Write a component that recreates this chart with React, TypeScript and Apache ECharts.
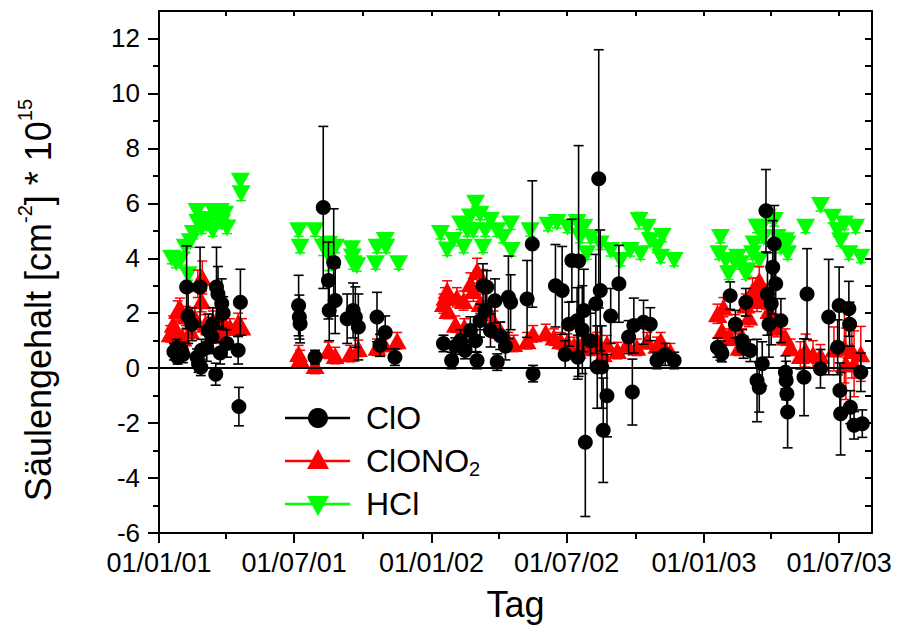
import React, { useEffect, useRef } from "react";
import * as echarts from "echarts";

// ---------- data ----------
const cloDates = [
  "2001-01-21","2001-01-25","2001-01-26","2001-01-31","2001-02-02","2001-02-07","2001-02-09","2001-02-14","2001-02-21","2001-02-23",
  "2001-02-25","2001-02-26","2001-02-27","2001-03-06","2001-03-08","2001-03-13","2001-03-14","2001-03-18","2001-03-19","2001-03-21",
  "2001-03-24","2001-03-26","2001-03-28","2001-04-02","2001-04-17","2001-04-18","2001-04-20",
  "2001-07-07","2001-07-08","2001-07-09","2001-07-29","2001-08-09","2001-08-16","2001-08-17","2001-08-23","2001-08-25","2001-09-10",
  "2001-09-18","2001-09-21","2001-09-25","2001-10-20","2001-10-24","2001-10-31","2001-11-13",
  "2002-01-17","2002-01-28","2002-02-02","2002-02-09","2002-02-15","2002-02-22","2002-03-01","2002-03-03","2002-03-07","2002-03-11",
  "2002-03-14","2002-03-16","2002-03-21","2002-03-27","2002-03-30","2002-04-03","2002-04-10","2002-04-14","2002-04-17","2002-05-09",
  "2002-05-16","2002-05-17",
  "2002-06-16","2002-06-25","2002-06-29","2002-07-04","2002-07-08","2002-07-15","2002-07-16","2002-07-17","2002-07-22","2002-07-24",
  "2002-07-26","2002-08-02","2002-08-09","2002-08-11","2002-08-13","2002-08-15","2002-08-17","2002-08-19","2002-08-24","2002-08-29",
  "2002-09-09","2002-09-22","2002-09-27","2002-09-29","2002-10-12","2002-10-21","2002-10-30","2002-11-10","2002-11-22",
  "2003-01-19","2003-01-23","2003-01-25","2003-02-05","2003-02-12","2003-02-21","2003-02-23","2003-02-26","2003-03-04","2003-03-13",
  "2003-03-16","2003-03-20","2003-03-25","2003-03-27","2003-03-29","2003-04-01","2003-04-03","2003-04-05","2003-04-07","2003-04-14",
  "2003-04-20","2003-04-21","2003-04-22","2003-04-23",
  "2003-05-15","2003-05-19","2003-06-06","2003-06-17","2003-06-29","2003-07-01","2003-07-02","2003-07-03","2003-07-14","2003-07-15",
  "2003-07-16","2003-07-21","2003-07-30","2003-08-01",
];
const cloValues = [
  0.6,0.75,0.4,0.65,0.5,2.95,1.9,1.6,0.4,0.15,
  2.95,0.03,0.65,0.75,1.37,1.13,1.6,-0.22,2.95,2.7,
  0.55,2.35,2.0,0.9,0.65,-1.4,2.4,
  2.28,1.86,1.62,0.4,5.85,3.19,2.1,3.85,2.46,1.8,
  2.1,1.86,1.5,1.86,0.83,1.3,0.4,
  0.9,0.28,0.8,1.0,0.64,1.37,1.0,0.28,1.73,3.0,
  2.1,2.95,1.37,2.45,0.22,1.18,0.8,2.58,2.4,2.52,
  4.52,-0.2,
  3.0,2.83,0.5,1.6,3.92,1.73,0.4,3.9,1.4,2.1,
  -2.7,1.0,2.34,0.04,6.89,2.83,0.04,-2.26,-1.0,1.9,
  3.07,1.13,-0.87,1.55,1.67,1.6,0.28,0.5,0.28,
  0.75,0.64,0.53,2.64,1.6,1.0,0.76,2.4,0.64,-0.45,
  -0.7,0.16,5.73,2.7,1.6,2.35,3.67,4.52,3.07,1.73,
  -0.15,-0.45,-0.93,-1.6,
  -0.33,2.7,-0.02,1.86,0.76,2.28,-0.81,-1.66,2.16,1.6,
  -1.42,-2.08,-0.15,-2.02,
];
const cloErrors = [
  0.3,0.3,0.25,0.3,0.3,1.5,1.0,0.6,0.3,0.3,
  1.45,0.3,0.4,0.5,0.6,0.6,0.6,0.4,1.45,1.0,
  0.4,0.9,0.6,0.5,0.5,0.7,1.2,
  1.1,0.8,0.7,0.25,2.95,1.4,1.1,1.95,1.2,0.9,
  1.0,1.1,1.2,0.9,0.4,0.6,0.3,
  0.3,0.3,0.3,0.4,0.3,0.5,0.4,0.3,0.6,0.8,
  0.7,0.6,0.6,0.8,0.3,0.5,0.5,1.5,1.0,1.4,
  2.3,0.3,
  1.5,1.6,0.5,0.8,1.5,1.2,0.8,4.2,1.6,1.5,
  2.7,1.0,1.8,1.5,4.7,2.2,1.5,1.9,1.5,1.0,
  1.4,0.6,1.2,1.0,0.8,0.6,0.3,0.4,0.3,
  0.35,0.35,0.3,0.5,0.5,0.4,0.4,0.5,0.4,1.5,
  0.9,0.8,1.5,1.5,1.2,1.5,1.7,1.4,1.4,0.8,
  0.6,0.7,0.8,1.3,
  1.4,1.65,0.7,2.1,1.0,1.4,1.0,1.5,1.0,0.8,
  0.6,0.5,0.7,0.5,
];

const clono2Dates = [
  "2001-01-16","2001-01-20","2001-01-24","2001-01-26","2001-01-29","2001-02-02","2001-02-06","2001-02-12","2001-02-18","2001-02-22",
  "2001-02-27","2001-02-28","2001-03-04","2001-03-10","2001-03-14","2001-03-21","2001-03-25","2001-03-30","2001-04-06","2001-04-17",
  "2001-04-22",
  "2001-07-07","2001-07-09","2001-07-29","2001-08-16","2001-08-25","2001-09-14","2001-09-25","2001-10-20","2001-10-29","2001-11-16",
  "2002-01-17","2002-01-19","2002-01-22","2002-01-23","2002-02-02","2002-02-04","2002-02-13","2002-02-14","2002-02-22","2002-02-26",
  "2002-03-03","2002-03-07","2002-03-11","2002-03-16","2002-03-25","2002-04-03","2002-04-14","2002-04-21","2002-05-09","2002-05-17",
  "2002-06-03","2002-06-14","2002-06-23","2002-07-02","2002-07-11","2002-07-15","2002-07-24","2002-08-02","2002-08-11","2002-08-19",
  "2002-08-24","2002-09-07","2002-09-20","2002-10-03","2002-10-17","2002-10-30","2002-11-04","2002-11-17",
  "2003-01-19","2003-01-25","2003-01-27","2003-02-05","2003-02-12","2003-02-17","2003-02-21","2003-02-26","2003-03-02","2003-03-07",
  "2003-03-13","2003-03-14","2003-03-16","2003-03-25","2003-03-29","2003-04-09","2003-04-20","2003-04-27",
  "2003-05-10","2003-05-17","2003-05-27","2003-06-06","2003-06-24","2003-07-08","2003-07-10","2003-07-18","2003-07-21","2003-07-30",
];
const clono2Values = [
  1.25,1.6,1.4,2.1,2.2,1.1,1.9,1.37,1.85,3.07,
  2.45,3.3,1.6,1.5,1.73,1.85,1.2,1.6,1.5,1.65,
  1.5,
  0.53,0.35,0.1,0.65,0.46,0.53,0.72,0.76,0.9,1.0,
  2.35,2.58,2.83,2.1,1.6,2.58,2.46,1.5,3.07,2.83,
  3.55,2.35,3.19,2.1,1.73,1.37,1.0,0.9,1.0,1.25,
  1.3,1.13,1.0,0.95,0.83,0.64,1.0,0.76,1.0,0.52,
  0.89,0.64,0.89,0.76,1.0,0.83,1.0,0.6,
  1.98,1.37,2.22,1.13,1.6,0.76,1.13,2.3,1.86,2.83,
  2.46,2.83,3.19,2.6,2.1,1.49,1.13,0.76,
  0.46,0.64,0.5,0.46,0.7,0.76,0.16,0.64,0.16,0.52,
];
const clono2Errors = [
  0.3,0.3,0.3,0.35,0.35,0.3,0.35,0.3,0.35,0.5,
  0.4,0.6,0.35,0.35,0.35,0.35,0.3,0.35,0.3,0.35,
  0.3,
  0.3,0.3,0.3,0.3,0.3,0.3,0.3,0.3,0.3,0.3,
  0.35,0.35,0.35,0.3,0.3,0.35,0.35,0.3,0.4,0.4,
  0.45,0.35,0.4,0.35,0.35,0.3,0.3,0.3,0.3,0.3,
  0.3,0.3,0.3,0.3,0.3,0.3,0.3,0.3,0.3,0.3,
  0.3,0.3,0.3,0.3,0.3,0.3,0.3,0.3,
  0.35,0.3,0.35,0.3,0.35,0.3,0.3,0.4,0.35,0.45,
  0.4,0.45,0.5,0.45,0.4,0.35,0.3,0.3,
  0.5,0.6,0.5,0.4,0.8,1.3,1.3,1.0,1.2,1.0,
];

const hclDates = [
  "2001-01-18","2001-01-24","2001-01-30","2001-02-05","2001-02-09","2001-02-12","2001-02-16","2001-02-21","2001-02-22","2001-02-27",
  "2001-03-02","2001-03-06","2001-03-10","2001-03-14","2001-03-15","2001-03-19","2001-03-24","2001-03-26","2001-03-30","2001-04-02",
  "2001-04-20","2001-04-21",
  "2001-07-07","2001-07-09","2001-07-29","2001-08-09","2001-08-16","2001-08-17","2001-08-25","2001-09-16","2001-09-17","2001-09-18",
  "2001-09-23","2001-10-18","2001-10-20","2001-10-31","2001-11-01","2001-11-18",
  "2002-01-13","2002-01-22","2002-01-30","2002-02-09","2002-02-13","2002-02-18","2002-02-22","2002-02-26","2002-03-01","2002-03-07",
  "2002-03-11","2002-03-14","2002-03-21","2002-03-30","2002-04-07","2002-04-17","2002-04-18","2002-05-13",
  "2002-06-06","2002-06-18","2002-07-02","2002-07-15","2002-07-19","2002-07-24","2002-07-28","2002-08-02","2002-08-15","2002-08-29",
  "2002-09-11","2002-09-24","2002-10-06","2002-10-08","2002-10-17","2002-10-21","2002-10-30","2002-11-04","2002-11-06","2002-11-22",
  "2003-01-21","2003-01-23","2003-01-30","2003-02-03","2003-02-10","2003-02-15","2003-02-19","2003-02-26","2003-02-28","2003-03-07",
  "2003-03-09","2003-03-13","2003-03-16","2003-03-18","2003-03-22","2003-03-27","2003-04-05","2003-04-09","2003-04-14","2003-04-20",
  "2003-04-22","2003-04-23",
  "2003-05-17","2003-06-06","2003-06-22","2003-06-29","2003-07-03","2003-07-08","2003-07-14","2003-07-23","2003-07-30",
];
const hclValues = [
  4.0,3.85,3.95,4.4,3.4,4.6,4.9,5.7,5.3,5.1,
  5.4,5.25,5.4,5.0,5.7,5.5,5.7,5.3,5.6,5.1,
  6.8,6.35,
  5.0,4.4,5.0,4.4,4.5,4.05,4.4,4.35,4.05,3.8,
  3.73,3.8,4.4,4.65,4.4,3.8,
  4.9,4.3,4.65,5.25,4.4,5.0,5.5,5.0,6.0,5.6,
  4.4,5.0,5.37,5.0,4.76,5.25,4.28,5.0,
  5.2,5.3,5.13,5.3,4.76,5.13,4.16,4.76,4.52,4.28,
  3.92,4.28,5.37,4.16,5.13,4.64,4.4,4.04,4.8,3.92,
  4.16,4.76,3.92,3.43,3.92,4.04,3.8,3.43,3.55,4.16,
  4.52,5.13,3.92,5.13,4.76,5.49,5.37,4.76,4.4,4.64,
  4.52,4.16,
  5.13,5.92,5.49,5.0,4.64,5.25,4.16,5.13,4.04,
];
const hclErrors = [
  0.2,0.2,0.2,0.2,0.2,0.2,0.2,0.2,0.2,0.2,
  0.2,0.2,0.2,0.2,0.2,0.2,0.2,0.2,0.2,0.2,
  0.25,0.25,
  0.2,0.2,0.2,0.3,0.3,0.5,0.2,0.2,0.2,0.2,
  0.2,0.2,0.2,0.2,0.2,0.2,
  0.2,0.2,0.2,0.2,0.2,0.2,0.2,0.2,0.2,0.2,
  0.2,0.2,0.2,0.2,0.2,0.2,0.2,0.2,
  0.2,0.2,0.2,0.2,0.2,0.2,0.2,0.2,0.2,0.2,
  0.2,0.2,0.3,0.2,0.2,0.2,0.2,0.2,0.2,0.2,
  0.2,0.2,0.2,0.2,0.2,0.2,0.2,0.2,0.2,0.2,
  0.2,0.2,0.2,0.2,0.2,0.2,0.2,0.2,0.2,0.2,
  0.2,0.2,
  0.2,0.2,0.2,0.2,0.2,0.2,0.2,0.2,0.2,
];

const xStart = "2001-01-01";
const xEnd = "2003-08-14";
const xMajorTicks = ["2001-01-01","2001-07-01","2002-01-01","2002-07-01","2003-01-01","2003-07-01"];
const xMinorTicks = ["2001-04-01","2001-10-01","2002-04-01","2002-10-01","2003-04-01"];
const yMin = -6;
const yMax = 13;
const yLabelValues = [-6,-4,-2,0,2,4,6,8,10,12];
const yTickValues = [-6,-5,-4,-3,-2,-1,0,1,2,3,4,5,6,7,8,9,10,11,12];

// ---------- helpers ----------
const FONT = "'Liberation Sans', Arial, sans-serif";
const toTs = (s: string) => {
  const [y, m, d] = s.split("-").map(Number);
  return Date.UTC(y, m - 1, d);
};
const pad = (n: number) => (n < 10 ? "0" + n : "" + n);
const fmtDate = (v: number) => {
  const dt = new Date(v);
  return pad(dt.getUTCDate()) + "/" + pad(dt.getUTCMonth() + 1) + "/" + pad(dt.getUTCFullYear() % 100);
};

const points = (dates: string[], vals: number[]) => dates.map((d, i) => [toTs(d), vals[i]]);
const errs = (dates: string[], vals: number[], e: number[]) =>
  dates.map((d, i) => [toTs(d), vals[i] - e[i], vals[i] + e[i]]);

const errRender = (color: string, lw: number, cap: number) => (params: any, api: any) => {
  const x = api.value(0);
  const lo = api.coord([x, api.value(1)]);
  const hi = api.coord([x, api.value(2)]);
  const st = { stroke: color, lineWidth: lw };
  return {
    type: "group",
    children: [
      { type: "line", shape: { x1: lo[0], y1: lo[1], x2: hi[0], y2: hi[1] }, style: st },
      { type: "line", shape: { x1: hi[0] - cap, y1: hi[1], x2: hi[0] + cap, y2: hi[1] }, style: st },
      { type: "line", shape: { x1: lo[0] - cap, y1: lo[1], x2: lo[0] + cap, y2: lo[1] }, style: st },
    ],
  };
};

export default function App() {
  const ref = useRef<HTMLDivElement>(null);
  useEffect(() => {
    if (!ref.current) return;
    const chart = echarts.init(ref.current, null, { renderer: "svg" });
    const axisLineStyle = { color: "#000", width: 2 };
    const xMin = toTs(xStart);
    const xMax = toTs(xEnd);
    const majors = xMajorTicks.map(toTs);
    const minors = xMinorTicks.map(toTs);
    const allX = [...majors, ...minors].sort((a, b) => a - b);

    const option: any = {
      animation: false,
      backgroundColor: "#fff",
      grid: { left: 159, right: 26, top: 11, bottom: 96, containLabel: false, outerBoundsMode: "none" },
      xAxis: [
        {
          type: "value", position: "bottom", min: xMin, max: xMax,
          axisLine: { show: true, onZero: false, lineStyle: axisLineStyle },
          axisTick: { show: true, inside: false, length: 10, lineStyle: axisLineStyle, customValues: majors },
          axisLabel: { customValues: majors, formatter: fmtDate, fontSize: 27, color: "#000", margin: 16, fontFamily: FONT },
          splitLine: { show: false },
          name: "Tag", nameLocation: "middle", nameGap: 53,
          nameTextStyle: { fontSize: 36, color: "#000", fontFamily: FONT },
        },
        {
          type: "value", position: "bottom", min: xMin, max: xMax,
          axisLine: { show: false, onZero: false },
          axisTick: { show: true, inside: false, length: 6, lineStyle: axisLineStyle, customValues: minors },
          axisLabel: { show: false }, splitLine: { show: false },
        },
        {
          type: "value", position: "top", min: xMin, max: xMax,
          axisLine: { show: true, onZero: false, lineStyle: axisLineStyle },
          axisTick: { show: true, inside: true, length: 5, lineStyle: axisLineStyle, customValues: allX },
          axisLabel: { show: false }, splitLine: { show: false },
        },
      ],
      yAxis: [
        {
          type: "value", position: "left", min: yMin, max: yMax,
          axisLine: { show: true, onZero: false, lineStyle: axisLineStyle },
          axisTick: { show: true, inside: false, length: 6, lineStyle: axisLineStyle, customValues: yTickValues },
          axisLabel: { customValues: yLabelValues, fontSize: 26, color: "#000", margin: 19, fontFamily: FONT },
          splitLine: { show: false },
        },
        {
          type: "value", position: "left", min: yMin, max: yMax,
          axisLine: { show: false, onZero: false },
          axisTick: { show: true, inside: false, length: 11, lineStyle: axisLineStyle, customValues: yLabelValues },
          axisLabel: { show: false }, splitLine: { show: false },
        },
        {
          type: "value", position: "right", min: yMin, max: yMax,
          axisLine: { show: true, onZero: false, lineStyle: axisLineStyle },
          axisTick: { show: true, inside: true, length: 7, lineStyle: axisLineStyle, customValues: yTickValues },
          axisLabel: { show: false }, splitLine: { show: false },
        },
      ],
      series: [
        {
          name: "HCl err", type: "custom", z: 1, xAxisIndex: 0, yAxisIndex: 0,
          renderItem: errRender("#00ff00", 1.5, 5),
          encode: { x: 0, y: [1, 2] },
          data: errs(hclDates, hclValues, hclErrors),
        },
        {
          name: "HCl", type: "scatter", z: 2, xAxisIndex: 0, yAxisIndex: 0,
          symbol: "triangle", symbolRotate: 180, symbolSize: [19, 17],
          itemStyle: { color: "#00ff00", opacity: 1 },
          data: points(hclDates, hclValues),
          markLine: {
            silent: true, symbol: ["none", "none"], label: { show: false },
            lineStyle: { color: "#000", width: 2, type: "solid" },
            data: [{ yAxis: 0 }],
          },
        },
        {
          name: "ClONO2 err", type: "custom", z: 3, xAxisIndex: 0, yAxisIndex: 0,
          renderItem: errRender("#ff0000", 1.5, 5),
          encode: { x: 0, y: [1, 2] },
          data: errs(clono2Dates, clono2Values, clono2Errors),
        },
        {
          name: "ClONO2", type: "scatter", z: 4, xAxisIndex: 0, yAxisIndex: 0,
          symbol: "triangle", symbolSize: [19, 17],
          itemStyle: { color: "#ff0000", opacity: 1 },
          data: points(clono2Dates, clono2Values),
        },
        {
          name: "ClO err", type: "custom", z: 5, xAxisIndex: 0, yAxisIndex: 0,
          renderItem: errRender("#000000", 1.6, 5),
          encode: { x: 0, y: [1, 2] },
          data: errs(cloDates, cloValues, cloErrors),
        },
        {
          name: "ClO", type: "scatter", z: 6, xAxisIndex: 0, yAxisIndex: 0,
          symbol: "circle", symbolSize: 15,
          itemStyle: { color: "#000000", opacity: 1 },
          data: points(cloDates, cloValues),
        },
      ],
      graphic: [
        {
          type: "text", x: 38, y: 300, rotation: Math.PI / 2, z: 10,
          style: {
            text: "Säulengehalt [cm{sup|-2}] * 10{sup|15}",
            fontSize: 36, fontFamily: FONT, fill: "#000", lineHeight: 46,
            align: "center", verticalAlign: "middle",
            rich: { sup: { fontSize: 20, fontFamily: FONT, fill: "#000", lineHeight: 22, verticalAlign: "top" } },
          },
        },
        // legend
        { type: "line", z: 10, shape: { x1: 285, y1: 418, x2: 350, y2: 418 }, style: { stroke: "#000", lineWidth: 2.5 } },
        { type: "circle", z: 10, shape: { cx: 318, cy: 418, r: 10 }, style: { fill: "#000" } },
        { type: "text", z: 10, x: 366, y: 418, style: { text: "ClO", fontSize: 32, fontFamily: FONT, fill: "#000", verticalAlign: "middle" } },
        { type: "line", z: 10, shape: { x1: 285, y1: 461, x2: 350, y2: 461 }, style: { stroke: "#ff0000", lineWidth: 2.5 } },
        { type: "polygon", z: 10, shape: { points: [[318, 449], [329, 469], [307, 469]] }, style: { fill: "#ff0000" } },
        {
          type: "text", z: 10, x: 366, y: 461,
          style: {
            text: "ClONO{sub|2}", fontSize: 32, fontFamily: FONT, fill: "#000", verticalAlign: "middle", lineHeight: 36,
            rich: { sub: { fontSize: 20, fontFamily: FONT, fill: "#000", lineHeight: 20, verticalAlign: "bottom" } },
          },
        },
        { type: "line", z: 10, shape: { x1: 285, y1: 504, x2: 350, y2: 504 }, style: { stroke: "#00ff00", lineWidth: 2.5 } },
        { type: "polygon", z: 10, shape: { points: [[307, 496], [329, 496], [318, 516]] }, style: { fill: "#00ff00" } },
        { type: "text", z: 10, x: 366, y: 504, style: { text: "HCl", fontSize: 32, fontFamily: FONT, fill: "#000", verticalAlign: "middle" } },
      ],
    };
    chart.setOption(option);
    return () => chart.dispose();
  }, []);
  return <div ref={ref} style={{ position: "fixed", left: 0, top: 0, width: 898, height: 629, background: "#fff" }} />;
}
